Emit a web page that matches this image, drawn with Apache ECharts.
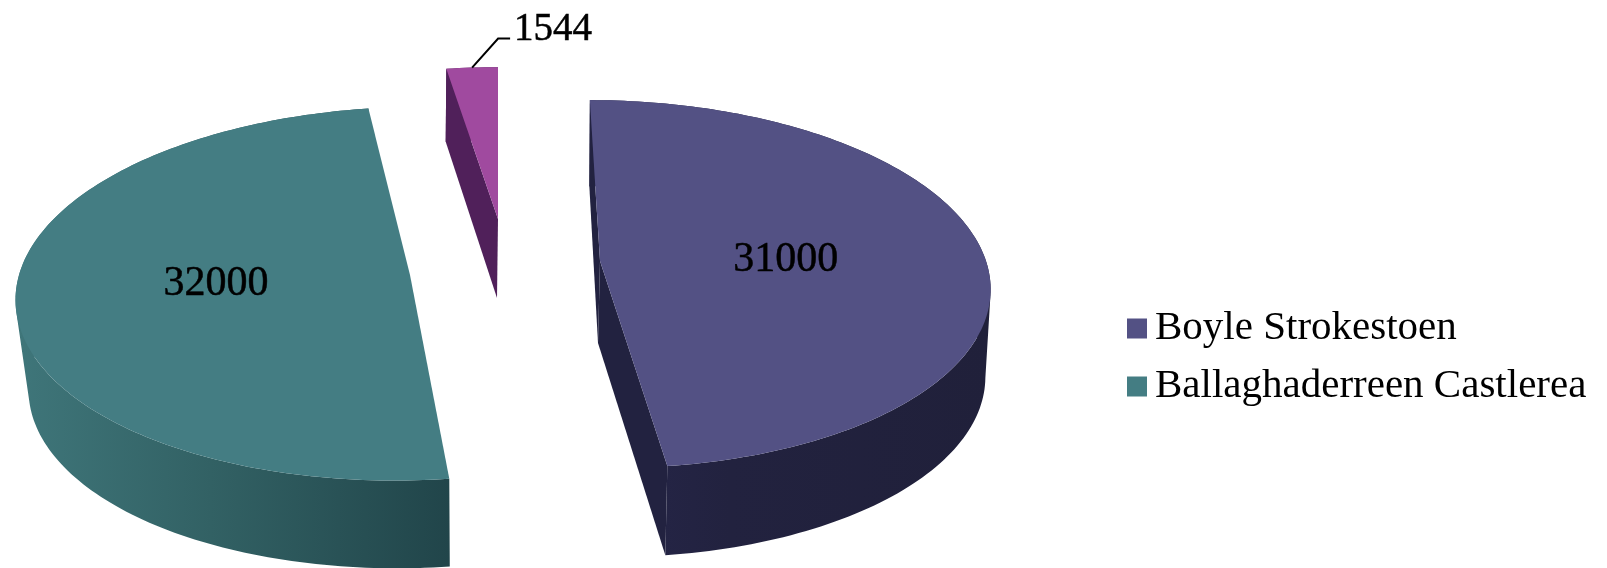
<!DOCTYPE html>
<html>
<head>
<meta charset="utf-8">
<style>html,body{margin:0;padding:0;background:#fff}#c{width:1607px;height:568px}</style>
<script src="https://cdn.jsdelivr.net/npm/echarts@6/dist/echarts.min.js"></script>
</head>
<body>
<div id="c"></div>
<script>
// ---- data ----
const categories = ['Boyle Strokestoen', 'Ballaghaderreen Castlerea', 'Other'];
const values = [31000, 32000, 1544];
const legendNames = ['Boyle Strokestoen', 'Ballaghaderreen Castlerea'];

// ---- look ----
const topColors = ['#535184', '#447d83', '#a04a9f'];
const sideGradients = [
  [[0, '#26264a'], [0.35, '#22223f'], [1, '#20203a']],
  [[0, '#3f767a'], [0.45, '#326164'], [1, '#21454a']],
  [[0, '#4f1f56'], [1, '#4f1f56']]
];
const cutColors = ['#222240', '#21454a', '#50205a'];
// Perspective disc for each exploded slice: upper face and lower face.
const discs = [
  { top: { x: 600, y: 261, a: 386, b: 181, k: 0.125, s: -11.4 }, bot: { x: 598, y: 343, a: 381, b: 181, k: 0.155, s: -10 }, cuts: [0, 1] },
  { top: { x: 410, y: 275, a: 391, b: 185, k: 0.10, s: 13 }, bot: { x: 412, y: 365, a: 380, b: 183, k: 0.10, s: 13 }, cuts: [] },
  { top: { x: 498, y: 219, a: 393, b: 173, k: 0.14, s: 0 }, bot: { x: 497, y: 298, a: 390, b: 180, k: 0.14, s: 0 }, cuts: [0] }
];
const FONT = '"Liberation Serif", serif';
const total = values.reduce((a, b) => a + b, 0);

function project(f, theta, r) {
  const u = Math.sin(theta) * r, v = Math.cos(theta) * r, w = 1 + f.k * v;
  return [f.x + f.a * u / w + f.s * v / w, f.y - f.b * v / w];
}
function rim(f, t0, t1) {
  const pts = [], n = Math.max(4, Math.ceil((t1 - t0) / 0.02));
  for (let i = 0; i <= n; i++) pts.push(project(f, t0 + (t1 - t0) * i / n, 1));
  return pts;
}
// The outer wall as a union of small quads, so its silhouette stays tangent to both rims.
function wallPath(topRim, botRim) {
  let d = '';
  for (let i = 0; i + 1 < topRim.length; i++) {
    let q = [topRim[i], topRim[i + 1], botRim[i + 1], botRim[i]];
    let area = 0;
    q.forEach((p, j) => { const n = q[(j + 1) % 4]; area += p[0] * n[1] - n[0] * p[1]; });
    if (area < 0) q = q.reverse();
    d += 'M' + q.map(p => p[0].toFixed(2) + ' ' + p[1].toFixed(2)).join('L') + 'Z';
  }
  return d;
}
function renderSlice(index) {
  return function (params, api) {
    const value = api.value(0);
    const before = values.slice(0, index).reduce((a, b) => a + b, 0);
    const t0 = before / total * 2 * Math.PI;
    const t1 = (before + value) / total * 2 * Math.PI;
    const d = discs[index];
    const children = [];
    const topRim = rim(d.top, t0, t1), botRim = rim(d.bot, t0, t1);
    children.push({
      type: 'path',
      shape: { pathData: wallPath(topRim, botRim) },
      style: {
        fill: { type: 'linear', x: 0, y: 0, x2: 1, y2: 0,
          colorStops: sideGradients[index].map(s => ({ offset: s[0], color: s[1] })) }
      }
    });
    d.cuts.forEach(c => {
      const t = c === 0 ? t0 : t1;
      children.push({
        type: 'polygon',
        shape: { points: [project(d.top, t, 1), [d.top.x, d.top.y], [d.bot.x, d.bot.y], project(d.bot, t, 1)] },
        style: { fill: cutColors[index] }
      });
    });
    children.push({
      type: 'polygon',
      shape: { points: topRim.concat([[d.top.x, d.top.y]]) },
      style: { fill: topColors[index] }
    });
    const mid = (t0 + t1) / 2;
    if (index < 2) {
      const p = project(d.top, mid, 0.49);
      children.push({
        type: 'text',
        style: { text: String(value), x: p[0] - 2, y: p[1] + (index === 0 ? 4 : -4), align: 'center', verticalAlign: 'middle',
          fontFamily: FONT, fontSize: 42, fill: '#000', stroke: '#000', lineWidth: 0.5 }
      });
    } else {
      const p = project(d.top, mid, 1);
      const elbow = [p[0] + 26, p[1] - 29];
      const end = [elbow[0] + 12, elbow[1]];
      children.push({
        type: 'polyline',
        shape: { points: [p, elbow, end] },
        style: { stroke: '#000', lineWidth: 2, fill: 'none' }
      });
      children.push({
        type: 'text',
        style: { text: String(value), x: end[0] + 4, y: end[1] - 9, align: 'left', verticalAlign: 'middle',
          fontFamily: FONT, fontSize: 39, fill: '#000', stroke: '#000', lineWidth: 0.5 }
      });
    }
    return { type: 'group', children };
  };
}

const chart = echarts.init(document.getElementById('c'), null, { renderer: 'canvas' });
chart.setOption({
  animation: false,
  backgroundColor: '#fff',
  legend: {
    data: legendNames,
    orient: 'vertical',
    left: 1127,
    top: 308,
    padding: 0,
    itemWidth: 20,
    itemHeight: 20,
    itemGap: 17,
    icon: 'rect',
    textStyle: { fontFamily: FONT, fontSize: 41, color: '#000', padding: [0, 0, 0, 3] },
    selectedMode: false
  },
  tooltip: { show: false },
  series: categories.map((name, i) => ({
    type: 'custom',
    name,
    coordinateSystem: 'none',
    silent: true,
    itemStyle: { color: topColors[i] },
    data: [[values[i]]],
    renderItem: renderSlice(i)
  }))
});
</script>
</body>
</html>
